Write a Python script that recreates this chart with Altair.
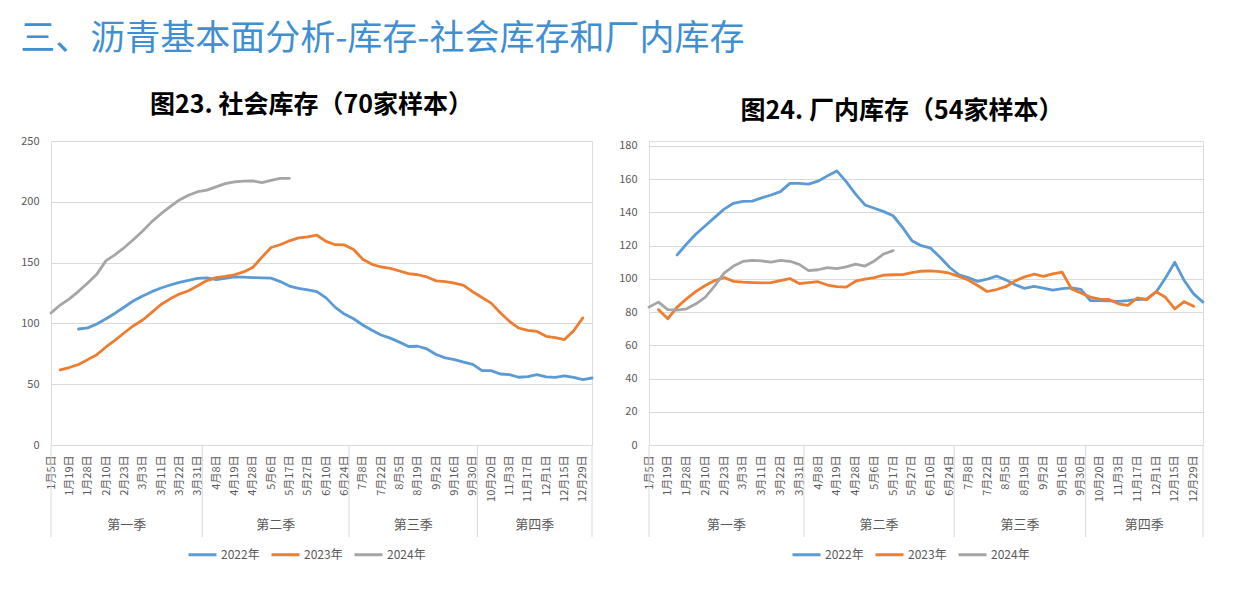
import json
import altair as alt
import pandas as pd

FONT = "Noto Sans CJK SC"

# ---------------- data ----------------
date_labels = ["1月5日", "1月19日", "1月28日", "2月10日", "2月23日", "3月3日", "3月11日", "3月22日", "3月31日",
               "4月8日", "4月19日", "4月28日", "5月6日", "5月17日", "5月27日", "6月10日", "6月24日",
               "7月8日", "7月22日", "8月5日", "8月19日", "9月2日", "9月16日", "9月30日",
               "10月20日", "11月3日", "11月17日", "12月1日", "12月15日", "12月29日"]
quarters = ["第一季", "第二季", "第三季", "第四季"]
quarter_sizes = [17, 16, 14, 13]          # weekly categories per quarter (60 in total)
series_names = ["2022年", "2023年", "2024年"]
series_colors = ["#5B9BD5", "#ED7D31", "#A5A5A5"]

# 图23 社会库存（70家样本）
social_2022 = [None] * 3 + [
    95.4, 96.3, 99.5, 103.8, 108.4, 113.5, 118.6, 122.6, 126.1, 129.1, 131.6, 133.8, 135.4, 137.0,
    137.5, 136.0, 137.0, 138.3, 138.0, 137.7, 137.4, 137.2, 134.4, 130.7, 128.8, 127.5, 126.2, 121.0,
    113.2, 107.7, 103.8, 98.7, 94.3, 90.5, 87.9, 84.6, 81.0, 81.2, 79.0, 74.4, 71.7, 70.2, 68.2, 66.3,
    61.2, 61.2, 58.4, 57.8, 55.7, 56.3, 57.8, 56.0, 55.6, 56.9, 55.7, 53.8, 55.1]
social_2023 = [None] + [
    61.7, 63.7, 66.2, 70.2, 74.3, 80.6, 86.3, 92.3, 98.1, 102.8, 109.1, 115.5, 120.2, 124.1, 126.9,
    131.0, 135.2, 137.6, 138.6, 140.0, 142.3, 146.0, 154.4, 162.4, 164.7, 167.9, 170.3, 171.1, 172.5,
    167.4, 164.7, 164.5, 160.7, 152.8, 148.6, 146.4, 145.2, 143.1, 140.9, 140.0, 138.2, 135.0, 134.4,
    133.2, 131.3, 126.0, 121.3, 116.7, 108.7, 101.7, 96.2, 94.2, 93.4, 89.4, 88.3, 86.7, 94.0, 104.5]
social_2024 = [
    108.5, 115.1, 120.2, 126.4, 133.2, 140.5, 151.6, 156.5, 162.4, 169.0, 176.0, 183.7, 190.2, 196.0,
    201.5, 205.4, 208.3, 209.6, 212.3, 214.9, 216.3, 217.0, 217.2, 215.8, 217.6, 219.3, 219.3]

# 图24 厂内库存（54家样本）
plant_2022 = [None] * 3 + [
    114.4, 121.0, 127.0, 132.0, 137.0, 142.0, 145.5, 146.7, 146.8, 148.8, 150.5, 152.5, 157.5, 157.5,
    157.0, 158.8, 162.0, 165.0, 158.5, 151.0, 144.5, 142.5, 140.5, 138.0, 131.0, 123.0, 120.0, 118.5,
    113.0, 107.0, 102.5, 100.8, 98.5, 99.8, 101.7, 99.4, 96.5, 94.3, 95.5, 94.4, 93.2, 94.1, 94.6, 93.7,
    86.9, 86.9, 86.8, 86.5, 86.9, 87.6, 87.9, 92.0, 100.5, 110.0, 99.0, 91.0, 86.0]
plant_2023 = [None] + [
    81.5, 76.0, 83.0, 88.0, 92.5, 96.0, 99.0, 100.8, 98.5, 98.0, 97.8, 97.6, 97.8, 99.0, 100.2,
    97.2, 97.8, 98.3, 96.3, 95.3, 95.0, 98.6, 99.9, 100.8, 102.3, 102.5, 102.6, 103.7, 104.6, 104.8,
    104.4, 103.4, 101.5, 99.3, 96.0, 92.4, 93.6, 95.3, 98.8, 101.2, 102.8, 101.5, 103.0, 104.0, 94.0,
    91.5, 89.0, 87.8, 87.6, 85.0, 84.0, 88.5, 87.5, 92.3, 88.9, 82.0, 86.3, 83.5]
plant_2024 = [
    83.0, 86.0, 81.5, 81.2, 82.0, 85.0, 89.0, 95.8, 103.5, 107.7, 110.5, 111.2, 110.8, 110.1, 111.2,
    110.6, 108.7, 105.0, 105.5, 106.8, 106.2, 107.2, 108.9, 107.7, 110.8, 115.0, 117.0]

N_CAT = sum(quarter_sizes)
GRID = "#D9D9D9"
TXT = "#595959"
PLOT_H = 304


def series_frame(lists):
    rows = []
    for name, vals in zip(series_names, lists):
        for i, v in enumerate(vals):
            if v is not None:
                rows.append({"i": i, "v": v, "s": name})
    return pd.DataFrame(rows)


def quarter_frames():
    starts = [sum(quarter_sizes[:k]) for k in range(len(quarter_sizes))]
    bounds = [0] + [s - 0.5 for s in starts[1:]] + [N_CAT - 1]
    centers = [(bounds[k] + bounds[k + 1]) / 2 for k in range(len(quarters))]
    return (pd.DataFrame({"i": bounds}),
            pd.DataFrame({"i": centers, "q": quarters}))


def panel(lists, y_top, y_max, y_step, width, title, title_dx, title_offset, legend_x, legend_y):
    height = PLOT_H
    xscale = alt.Scale(domain=[0, N_CAT - 1], nice=False, zero=False)
    xaxis = alt.Axis(values=list(range(0, 2 * len(date_labels), 2)),
                     labelExpr=json.dumps(date_labels, ensure_ascii=False) + "[floor(datum.value / 2)]",
                     labelAngle=270, labelAlign="right", labelBaseline="middle",
                     grid=False, ticks=False, domain=True, domainColor=GRID, domainWidth=1,
                     labelPadding=10, title=None, labelOverlap=False, labelFlush=False,
                     labelBound=False, labelFontSize=11, labelColor=TXT, labelFont=FONT)
    x = alt.X("i:Q", scale=xscale, axis=xaxis)
    y = alt.Y("v:Q", scale=alt.Scale(domain=[0, y_top], nice=False),
              axis=alt.Axis(values=list(range(0, y_max + 1, y_step)), grid=True, gridColor=GRID,
                            gridWidth=1, domain=False, ticks=False, labelPadding=12, title=None,
                            labelFontSize=11, labelColor=TXT, labelFont=FONT))
    lines = alt.Chart(series_frame(lists)).mark_line(
        strokeWidth=2.8, strokeJoin="round", strokeCap="round").encode(
        x=x, y=y,
        color=alt.Color("s:N", scale=alt.Scale(domain=series_names, range=series_colors),
                        legend=alt.Legend(title=None, orient="none", legendX=legend_x, legendY=legend_y,
                                          direction="horizontal", symbolType="stroke", symbolSize=784,
                                          symbolStrokeWidth=3, labelFontSize=12, labelColor=TXT,
                                          labelFont=FONT, labelOffset=3, columnPadding=5, padding=0)))
    bdf, cdf = quarter_frames()
    seps = alt.Chart(bdf).mark_rule(color=GRID, strokeWidth=1).encode(
        x=x, y=alt.value(height), y2=alt.value(height + 92))
    qtext = alt.Chart(cdf).mark_text(fontSize=13, color=TXT, font=FONT, baseline="middle").encode(
        x=x, y=alt.value(height + 80), text="q:N")
    return alt.layer(lines, seps, qtext).properties(
        width=width, height=height,
        title=alt.TitleParams(title, fontSize=25, fontWeight="bold", font=FONT, color="#000000",
                              anchor="middle", dx=title_dx, offset=title_offset))


left = panel([social_2022, social_2023, social_2024], 250, 250, 50, 541,
             "图23. 社会库存（70家样本）", -10, 17, 136, 398)
# the 180 gridline of the right panel sits a little below the panel top
right = panel([plant_2022, plant_2023, plant_2024], 183, 180, 20, 554,
              "图24. 厂内库存（54家样本）", -24, 16, 142, 398)

chart = alt.hconcat(left, right, spacing=24).resolve_scale(color="independent").resolve_legend(
    color="independent").properties(
    title=alt.TitleParams("三、沥青基本面分析-库存-社会库存和厂内库存", fontSize=35, font=FONT,
                          fontWeight="normal", color="#3F8FD2", anchor="start", offset=36),
    padding={"left": 12, "top": 13, "right": 0, "bottom": 0},
).configure_view(stroke=None).configure(background="white")

chart.save("out.html", embed_options={"renderer": "svg", "actions": False})
